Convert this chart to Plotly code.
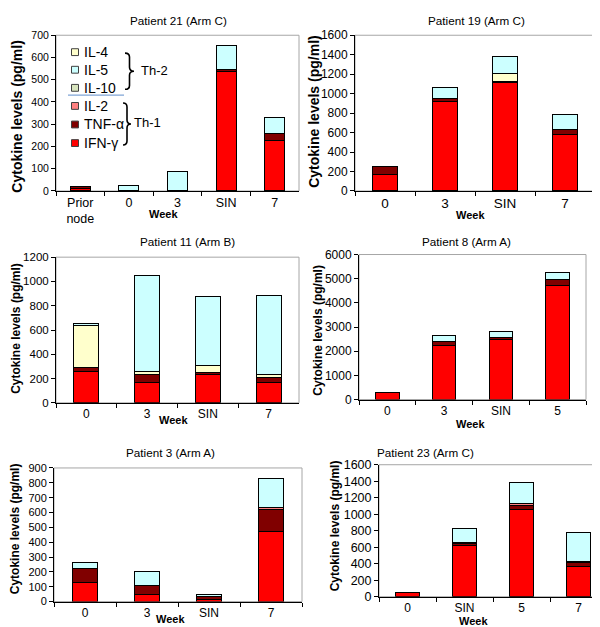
import plotly.graph_objects as go

W, H = 600, 627

cytokines = ["IFN-γ", "TNF-α", "IL-2", "IL-10", "IL-4", "IL-5"]
colors = {"IFN-γ": "#FF0000", "TNF-α": "#800000", "IL-2": "#FF8080",
          "IL-10": "#D7E4BD", "IL-4": "#FFFFCC", "IL-5": "#CCFFFF"}
legend_order = ["IL-4", "IL-5", "IL-10", "IL-2", "TNF-α", "IFN-γ"]

# Patient 21 (Arm C)
p21_weeks = ["Prior<br>node", "0", "3", "SIN", "7"]
p21_ifng = [12, 0, 0, 535, 225]
p21_tnfa = [9, 0, 0, 10, 33]
p21_il2 = [0, 0, 0, 0, 0]
p21_il10 = [0, 0, 0, 0, 0]
p21_il4 = [0, 0, 0, 0, 0]
p21_il5 = [0, 25, 88, 110, 72]

# Patient 19 (Arm C)
p19_weeks = ["0", "3", "SIN", "7"]
p19_ifng = [170, 915, 1115, 580]
p19_tnfa = [80, 35, 12, 55]
p19_il2 = [0, 0, 0, 0]
p19_il10 = [0, 0, 0, 0]
p19_il4 = [0, 0, 85, 0]
p19_il5 = [0, 110, 170, 150]

# Patient 11 (Arm B)
p11_weeks = ["0", "3", "SIN", "7"]
p11_ifng = [255, 165, 235, 165]
p11_tnfa = [40, 65, 15, 45]
p11_il2 = [0, 0, 0, 0]
p11_il10 = [0, 0, 0, 0]
p11_il4 = [338, 30, 55, 25]
p11_il5 = [22, 785, 567, 650]

# Patient 8 (Arm A)
p8_weeks = ["0", "3", "SIN", "5"]
p8_ifng = [270, 2220, 2500, 4700]
p8_tnfa = [0, 180, 80, 280]
p8_il2 = [0, 0, 0, 0]
p8_il10 = [0, 0, 0, 0]
p8_il4 = [0, 0, 0, 0]
p8_il5 = [0, 230, 230, 270]

# Patient 3 (Arm A)
p3_weeks = ["0", "3", "SIN", "7"]
p3_ifng = [130, 50, 15, 475]
p3_tnfa = [92, 58, 17, 145]
p3_il2 = [0, 0, 0, 12]
p3_il10 = [0, 0, 0, 0]
p3_il4 = [0, 0, 0, 0]
p3_il5 = [43, 92, 15, 195]

# Patient 23 (Arm C)
p23_weeks = ["0", "SIN", "5", "7"]
p23_ifng = [45, 620, 1060, 367]
p23_tnfa = [0, 20, 50, 48]
p23_il2 = [0, 0, 20, 10]
p23_il10 = [0, 22, 0, 0]
p23_il4 = [0, 0, 0, 0]
p23_il5 = [0, 162, 255, 350]


def px(x):
    return x / W


def py(y):
    return 1 - y / H


# layout of each panel: plot box in pixels (left, right, top, bottom)
panels = [
    dict(title="Patient 21 (Arm C)", weeks=p21_weeks,
         data=[p21_ifng, p21_tnfa, p21_il2, p21_il10, p21_il4, p21_il5],
         ymax=700, dtick=100, box=(48, 291, 20.7, 180), xfont=12.5, yfont=10.5,
         ylab=(9, 104, 14), week=(155, 204), tpos=(170, 6, "center")),
    dict(title="Patient 19 (Arm C)", weeks=p19_weeks,
         data=[p19_ifng, p19_tnfa, p19_il2, p19_il10, p19_il4, p19_il5],
         ymax=1600, dtick=200, box=(347, 587, 20.7, 180), xfont=13.5, yfont=12,
         ylab=(306, 99, 14), week=(463, 205), tpos=(468, 6, "center")),
    dict(title="Patient 11 (Arm B)", weeks=p11_weeks,
         data=[p11_ifng, p11_tnfa, p11_il2, p11_il10, p11_il4, p11_il5],
         ymax=1200, dtick=200, box=(48, 291, 247.7, 396.7), xfont=12, yfont=11.5,
         ylab=(8, 321, 12), week=(165, 414), tpos=(179, 232, "center")),
    dict(title="Patient 8 (Arm A)", weeks=p8_weeks,
         data=[p8_ifng, p8_tnfa, p8_il2, p8_il10, p8_il4, p8_il5],
         ymax=6000, dtick=1000, box=(351, 578, 245, 393.3), xfont=12, yfont=12,
         ylab=(310, 323, 12), week=(463, 418), tpos=(458, 232, "center")),
    dict(title="Patient 3 (Arm A)", weeks=p3_weeks,
         data=[p3_ifng, p3_tnfa, p3_il2, p3_il10, p3_il4, p3_il5],
         ymax=900, dtick=100, box=(46, 294, 463.3, 600), xfont=12, yfont=11,
         ylab=(7, 526, 12), week=(162, 618), tpos=(162, 447, "center")),
    dict(title="Patient 23 (Arm C)", weeks=p23_weeks,
         data=[p23_ifng, p23_tnfa, p23_il2, p23_il10, p23_il4, p23_il5],
         ymax=1600, dtick=200, box=(371, 599, 460, 595), xfont=12, yfont=12.5,
         ylab=(327, 523, 12), week=(465, 620), tpos=(367, 447, "left")),
]

fig = go.Figure()
annotations = []
shapes = []

for i, p in enumerate(panels, start=1):
    sfx = "" if i == 1 else str(i)
    xa, ya = "x" + sfx, "y" + sfx
    for name, vals in zip(cytokines, p["data"]):
        fig.add_trace(go.Bar(
            x=p["weeks"], y=vals, name=name, xaxis=xa, yaxis=ya,
            marker=dict(color=colors[name], line=dict(color="black", width=1)),
            width=0.41, showlegend=False,
        ))
    x0, x1, top, bot = p["box"]
    fig.update_layout({
        "xaxis" + sfx: dict(
            domain=[px(x0), px(x1)], anchor=ya, type="category",
            showline=True, linecolor="black", linewidth=1,
            ticks="outside", tickson="boundaries", ticklen=4, tickcolor="black",
            tickfont=dict(size=p["xfont"], color="black"), fixedrange=True,
        ),
        "yaxis" + sfx: dict(
            domain=[py(bot), py(top)], anchor=xa, range=[0, p["ymax"]],
            dtick=p["dtick"], showgrid=False, zeroline=False,
            showline=True, linecolor="black", linewidth=1,
            ticks="outside", ticklen=4, tickcolor="black",
            tickfont=dict(size=p["yfont"], color="black"),
        ),
    })
    # grey plot-area frame
    shapes.append(dict(type="rect", xref=xa + " domain", yref=ya + " domain",
                       x0=0, x1=1, y0=0, y1=1, layer="below",
                       line=dict(color="#A6A6A6", width=1)))
    tx, ty, tanchor = p["tpos"]
    annotations.append(dict(text=p["title"], x=px(tx), y=py(ty), xref="paper", yref="paper",
                            xanchor=tanchor, yanchor="middle", showarrow=False,
                            font=dict(size=11.7, color="black")))
    lx, ly, lsize = p["ylab"]
    annotations.append(dict(text="<b>Cytokine levels (pg/ml)</b>", x=px(lx), y=py(ly),
                            xref="paper", yref="paper", textangle=-90,
                            xanchor="center", yanchor="middle", showarrow=False,
                            font=dict(size=lsize, color="black")))
    wx, wy = p["week"]
    annotations.append(dict(text="<b>Week</b>", x=px(wx), y=py(wy), xref="paper", yref="paper",
                            xanchor="center", yanchor="middle", showarrow=False,
                            font=dict(size=11, color="black")))

# hand-made legend inside Patient 21 panel
leg_y = [38, 56, 74.5, 93, 112, 131]
for name, yy in zip(legend_order, leg_y):
    shapes.append(dict(type="rect", xref="paper", yref="paper",
                       x0=px(63.5), x1=px(70.5), y0=py(yy + 3.5), y1=py(yy - 3.5),
                       fillcolor=colors[name], line=dict(color="#404040", width=1)))
    annotations.append(dict(text=name, x=px(74), y=py(yy), xref="paper", yref="paper",
                            xanchor="left", yanchor="middle", showarrow=False,
                            font=dict(size=14, color="black")))

shapes.append(dict(type="line", xref="paper", yref="paper",
                   x0=px(60), x1=px(116), y0=py(82), y1=py(82),
                   line=dict(color="#7FA4D6", width=1.2)))


def brace(x0, xt, top, bot):
    xm = (x0 + xt) / 2
    mid = (top + bot) / 2
    r = 4
    pts = [
        f"M{px(x0)},{py(top)}",
        f"Q{px(xm)},{py(top)} {px(xm)},{py(top + r)}",
        f"L{px(xm)},{py(mid - r)}",
        f"Q{px(xm)},{py(mid)} {px(xt)},{py(mid)}",
        f"Q{px(xm)},{py(mid)} {px(xm)},{py(mid + r)}",
        f"L{px(xm)},{py(bot - r)}",
        f"Q{px(xm)},{py(bot)} {px(x0)},{py(bot)}",
    ]
    return dict(type="path", xref="paper", yref="paper", path=" ".join(pts),
                line=dict(color="black", width=1.6))


shapes.append(brace(117, 126, 39, 76))
shapes.append(brace(115, 123, 90, 133))
annotations.append(dict(text="Th-2", x=px(131), y=py(57), xref="paper", yref="paper",
                        xanchor="left", yanchor="middle", showarrow=False,
                        font=dict(size=13, color="black")))
annotations.append(dict(text="Th-1", x=px(124), y=py(110), xref="paper", yref="paper",
                        xanchor="left", yanchor="middle", showarrow=False,
                        font=dict(size=13, color="black")))

fig.update_layout(
    width=W, height=H,
    margin=dict(l=0, r=0, t=0, b=0),
    barmode="stack",
    plot_bgcolor="white", paper_bgcolor="white",
    font=dict(family="Liberation Sans, Arial, sans-serif", color="black"),
    annotations=annotations,
    shapes=shapes,
)

fig.write_html("out.html")
